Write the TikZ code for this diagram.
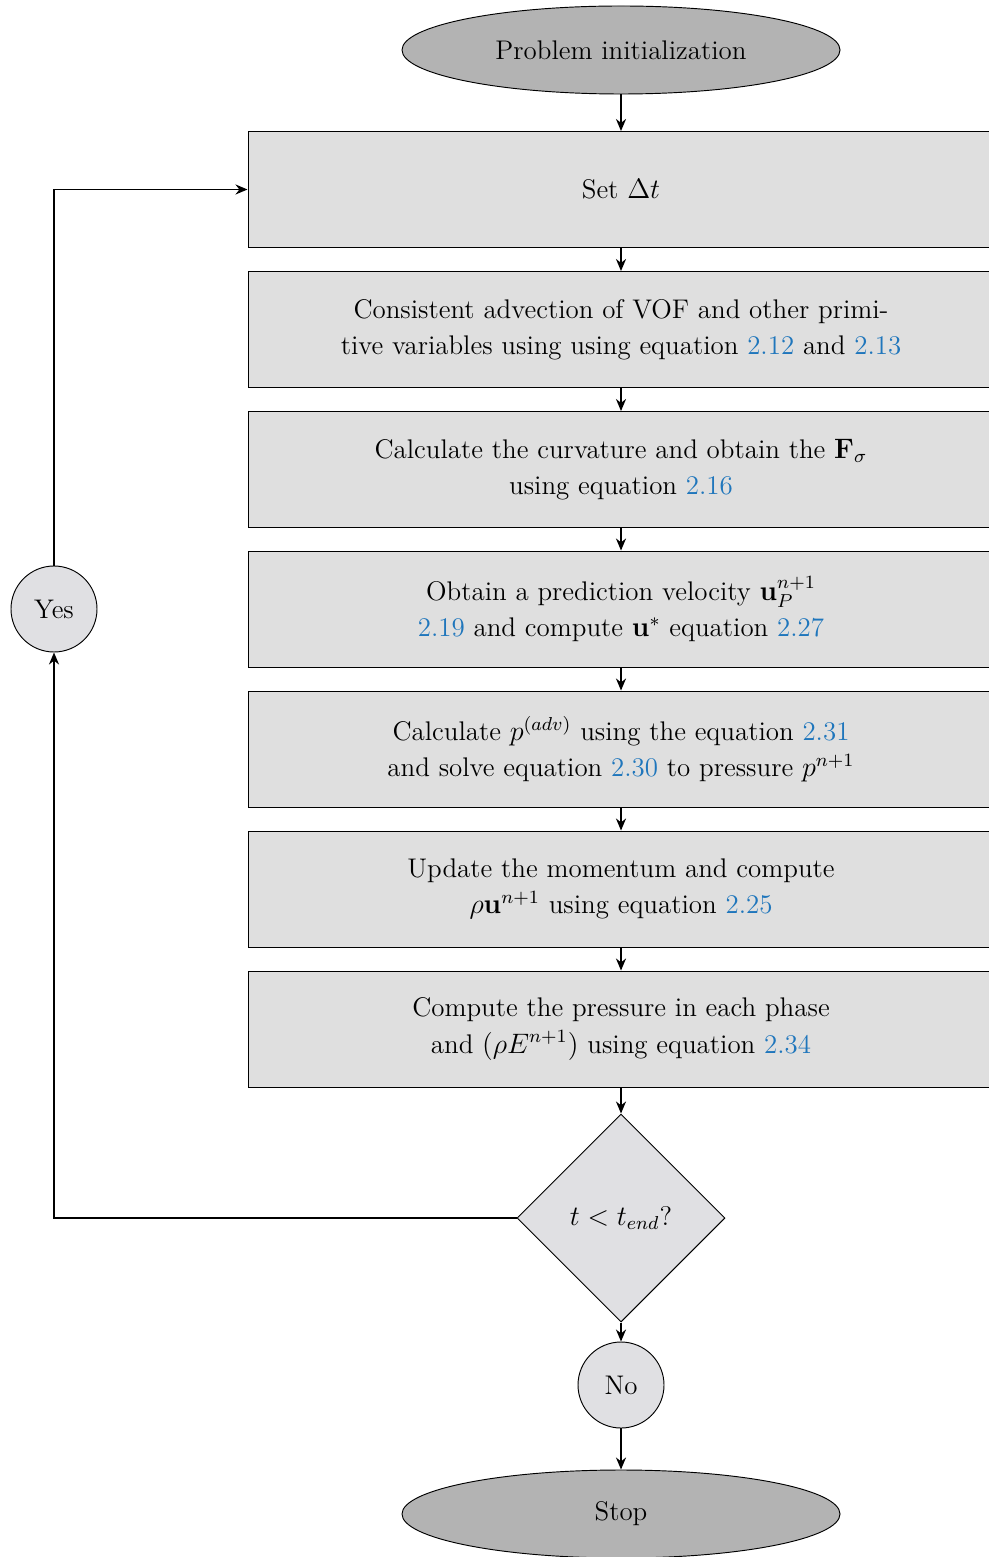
\documentclass[tikz,border=0pt]{standalone}
\usepackage{amsmath}
\usetikzlibrary{shapes.geometric,arrows.meta}
\definecolor{boxgray}{RGB}{223,223,223}
\definecolor{termgray}{RGB}{179,179,179}
\definecolor{diagray}{RGB}{224,224,227}
\definecolor{refblue}{RGB}{31,118,188}
\newcommand{\eqr}[1]{\textcolor{refblue}{#1}}
\begin{document}
\begin{tikzpicture}[x=0.015cm,y=-0.015cm,
  font=\fontsize{11.5}{15.4}\selectfont,
  term/.style={ellipse,draw,line width=0.4pt,fill=termgray,minimum width=6.57cm,minimum height=1.32cm,inner sep=0pt},
  procbox/.style={rectangle,draw,line width=0.4pt,fill=boxgray,minimum width=11.19cm,minimum height=1.74cm,align=center,inner sep=0pt},
  decide/.style={diamond,draw,line width=0.4pt,fill=diagray,minimum width=3.12cm,minimum height=3.12cm,inner sep=0pt},
  answer/.style={circle,draw,line width=0.4pt,fill=diagray,minimum size=1.29cm,inner sep=0pt},
  conn/.style={line width=0.8pt,-{Stealth[length=1.8mm,width=1.5mm]}}]
\useasboundingbox (0,0) rectangle (988,1557);
\node[term] (init) at (621,50) {Problem initialization};
\node[procbox] (b1) at (621,189.5) {Set $\Delta t$};
\node[procbox] (b2) at (621,329.5) {Consistent advection of VOF and other primi-\\tive variables using using equation \eqr{2.12} and \eqr{2.13}};
\node[procbox] (b3) at (621,469.5) {Calculate the curvature and obtain the $\mathbf{F}_\sigma$\\using equation \eqr{2.16}};
\node[procbox] (b4) at (621,609) {Obtain a prediction velocity $\mathbf{u}_P^{n+1}$\\\eqr{2.19} and compute $\mathbf{u}^{*}$ equation \eqr{2.27}};
\node[procbox] (b5) at (621,749) {Calculate $p^{(adv)}$ using the equation \eqr{2.31}\\and solve equation \eqr{2.30} to pressure $p^{n+1}$};
\node[procbox] (b6) at (621,889) {Update the momentum and compute\\$\rho\mathbf{u}^{n+1}$ using equation \eqr{2.25}};
\node[procbox] (b7) at (621,1029) {Compute the pressure in each phase\\and $(\rho E^{n+1})$ using equation \eqr{2.34}};
\node[decide] (dec) at (621,1218) {$t<t_{end}$?};
\node[answer] (no) at (621,1385) {No};
\node[answer] (yes) at (54,609) {Yes};
\node[term] (stop) at (621,1514) {Stop};
\draw[conn] (init) -- (b1);
\draw[conn] (b1) -- (b2);
\draw[conn] (b2) -- (b3);
\draw[conn] (b3) -- (b4);
\draw[conn] (b4) -- (b5);
\draw[conn] (b5) -- (b6);
\draw[conn] (b6) -- (b7);
\draw[conn] (b7) -- (dec);
\draw[conn] (dec) -- (no);
\draw[conn] (no) -- (stop);
\draw[conn] (dec.west) -| (yes.south);
\draw[conn] (yes.north) |- (b1.west);
\end{tikzpicture}
\end{document}
